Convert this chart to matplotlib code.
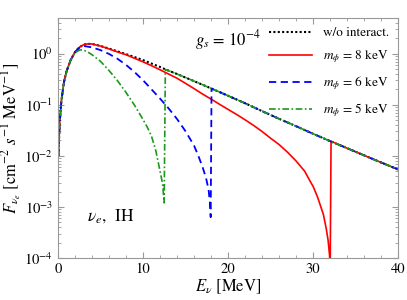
import numpy as np
import matplotlib
matplotlib.use('Agg')
import matplotlib.pyplot as plt
from matplotlib.ticker import MultipleLocator, LogLocator, NullFormatter

plt.rcParams['font.family'] = 'STIXGeneral'
plt.rcParams['mathtext.fontset'] = 'stix'

# no interaction spectrum
E_free = [0.05, 0.2, 0.4, 0.7, 1.0, 1.5, 2.0, 2.5, 3.0, 3.5, 4.0, 5.0, 6.0, 7.0, 8.0, 9.0,
          10.0, 10.8, 12.0, 12.67, 14.0, 16.0, 18.08, 20.0, 22.0, 24.0, 26.0, 28.0, 30.0,
          32.0, 34.0, 36.0, 38.0, 40.0]
F_free = [0.01, 0.045, 0.12, 0.28, 0.45, 0.76, 1.08, 1.33, 1.50, 1.56, 1.55, 1.42, 1.26,
          1.11, 0.98, 0.86, 0.75, 0.66, 0.55, 0.49, 0.40, 0.29, 0.207, 0.15, 0.107, 0.075,
          0.053, 0.038, 0.027, 0.0194, 0.0141, 0.0102, 0.0074, 0.0054]

# m_phi = 8 keV
E_8 = [0.05, 0.2, 0.4, 0.7, 1.0, 1.5, 2.0, 2.5, 3.0, 3.5, 4.0, 5.0, 6.0, 7.0, 8.0, 9.0,
       10.0, 11.0, 12.0, 13.0, 14.0, 15.0, 16.0, 17.0, 18.0, 19.0, 20.0, 21.0, 22.0, 23.0,
       24.0, 25.0, 26.0, 27.0, 28.0, 29.0, 29.65, 30.0, 30.5, 30.82, 31.2, 31.53, 31.75,
       31.92, 32.0, 32.1, 34.0, 36.0, 38.0, 40.0]
F_8 = [0.01, 0.045, 0.12, 0.28, 0.45, 0.76, 1.08, 1.33, 1.50, 1.56, 1.55, 1.41, 1.24,
       1.08, 0.955, 0.813, 0.692, 0.582, 0.484, 0.40, 0.33, 0.262, 0.207, 0.162, 0.129,
       0.102, 0.081, 0.0646, 0.0507, 0.0394, 0.0299, 0.0221, 0.0166, 0.0117, 0.0079,
       0.005, 0.00316, 0.00251, 0.00158, 0.0011, 0.00071, 0.00038, 0.000224, 0.000115,
       0.00006, 0.0193, 0.0141, 0.0102, 0.0074, 0.0054]

# m_phi = 6 keV
E_6 = [0.05, 0.2, 0.4, 0.7, 1.0, 1.5, 2.0, 2.5, 3.0, 4.0, 5.0, 6.0, 7.0, 8.0, 9.0, 10.0,
       11.0, 12.0, 13.0, 14.0, 15.0, 16.0, 16.5, 17.0, 17.4, 17.7, 17.85, 17.95, 18.05,
       20.0, 22.0, 24.0, 26.0, 28.0, 30.0, 32.0, 34.0, 36.0, 38.0, 40.0]
F_6 = [0.01, 0.045, 0.12, 0.28, 0.45, 0.76, 1.07, 1.30, 1.42, 1.33, 1.175, 0.989, 0.794,
       0.603, 0.437, 0.302, 0.20, 0.132, 0.0851, 0.0525, 0.0302, 0.0158, 0.01, 0.006,
       0.0037, 0.0022, 0.00126, 0.00063, 0.207, 0.15, 0.107, 0.075, 0.053, 0.038, 0.027,
       0.0194, 0.0141, 0.0102, 0.0074, 0.0054]

# m_phi = 5 keV
E_5 = [0.05, 0.2, 0.4, 0.7, 1.0, 1.5, 2.0, 2.6, 3.0, 3.5, 4.0, 5.0, 6.0, 7.0, 8.0, 9.0,
       10.0, 10.5, 11.0, 11.5, 12.0, 12.3, 12.48, 12.62, 14.0, 16.0, 18.08, 20.0, 22.0,
       24.0, 26.0, 28.0, 30.0, 32.0, 34.0, 36.0, 38.0, 40.0]
F_5 = [0.01, 0.045, 0.12, 0.28, 0.45, 0.75, 1.05, 1.19, 1.175, 1.08, 0.955, 0.708, 0.468,
       0.295, 0.174, 0.0977, 0.0513, 0.0363, 0.024, 0.0126, 0.005, 0.0028, 0.0012, 0.49,
       0.40, 0.29, 0.207, 0.15, 0.107, 0.075, 0.053, 0.038, 0.027, 0.0194, 0.0141, 0.0102,
       0.0074, 0.0054]

fig = plt.figure(figsize=(4.07, 3.0), dpi=100)
ax = fig.add_axes([0.1425, 0.14, 0.836, 0.80])

ax.plot(E_free, F_free, color='black', ls=(0, (1, 1.1)), lw=1.5, label='w/o interact.')
ax.plot(E_8, F_8, color='red', ls='-', lw=1.2, label=r'$m_\phi$ = 8 keV')
ax.plot(E_6, F_6, color='blue', ls=(0, (4, 2.5)), lw=1.3, label=r'$m_\phi$ = 6 keV')
ax.plot(E_5, F_5, color='#1a9a1a', ls=(0, (4, 1.5, 1, 1.5)), lw=1.2, label=r'$m_\phi$ = 5 keV')

ax.set_yscale('log')
ax.set_xlim(0, 40)
ax.set_ylim(1e-4, 5)
ax.xaxis.set_major_locator(MultipleLocator(10))
ax.xaxis.set_minor_locator(MultipleLocator(2))
ax.yaxis.set_major_locator(LogLocator(base=10, numticks=10))
ax.yaxis.set_minor_locator(LogLocator(base=10, subs=np.arange(2, 10), numticks=10))
ax.yaxis.set_minor_formatter(NullFormatter())

for sp in ax.spines.values():
    sp.set_color('#999999')
ax.tick_params(which='both', direction='in', top=True, right=True, color='#999999',
               labelsize=10.5)
ax.tick_params(which='major', length=4)
ax.tick_params(which='minor', length=2)

ax.set_xlabel(r'$E_\nu$ [MeV]', fontsize=12, labelpad=1)
ax.set_ylabel(r'$F_{\nu_e}$ [cm$^{-2}$ $s^{-1}$ MeV$^{-1}$]', fontsize=12, labelpad=0)

ax.text(0.5, 0.91, r'$g_s$ = $10^{-4}$', transform=ax.transAxes, fontsize=12,
        ha='center', va='center')
ax.text(0.085, 0.175, r'$\nu_e$,  IH', transform=ax.transAxes, fontsize=12.5,
        ha='left', va='center')

ax.legend(loc='upper right', frameon=False, fontsize=9.5, handlelength=3.3,
          labelspacing=0.7, borderaxespad=0.3, handletextpad=0.8)

fig.savefig('out.png', dpi=100)
